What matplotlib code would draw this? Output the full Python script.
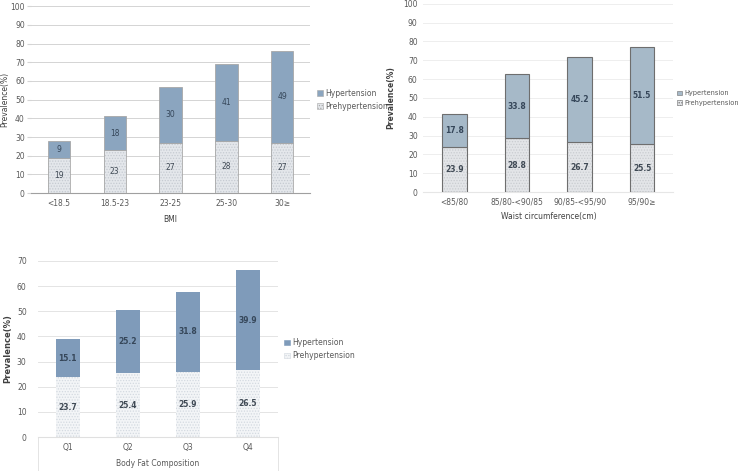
import numpy as np
import matplotlib
matplotlib.use("Agg")
import matplotlib.pyplot as plt
from matplotlib.patches import Patch

# --- data ---
bmi_cats = ["<18.5", "18.5-23", "23-25", "25-30", "30\u2265"]
bmi_pre = [19, 23, 27, 28, 27]
bmi_hyp = [9, 18, 30, 41, 49]

waist_cats = ["<85/80", "85/80-<90/85", "90/85-<95/90", "95/90\u2265"]
waist_pre = [23.9, 28.8, 26.7, 25.5]
waist_hyp = [17.8, 33.8, 45.2, 51.5]

fat_cats = ["Q1", "Q2", "Q3", "Q4"]
fat_pre = [23.7, 25.4, 25.9, 26.5]
fat_hyp = [15.1, 25.2, 31.8, 39.9]

plt.rcParams['font.family'] = ['DejaVu Sans']
plt.rcParams['hatch.linewidth'] = 0.6

fig = plt.figure(figsize=(7.4, 4.71), dpi=100)
tick_col = "#595959"


def stacked(ax, cats, pre, hyp, hyp_col, pre_face, hatch_col, edge, lw, fmt, bold, grid_col,
            width, leg_size=5.5, leg_x=1.01):
    x = np.arange(len(cats))
    pre = np.array(pre, dtype=float)
    hyp = np.array(hyp, dtype=float)
    # prehypertension: dotted fill, then outline on top
    ax.bar(x, pre, width, color=pre_face, edgecolor=hatch_col, hatch="......", linewidth=0, zorder=2)
    ax.bar(x, pre, width, facecolor="none", edgecolor=edge, linewidth=lw, zorder=3)
    ax.bar(x, hyp, width, bottom=pre, color=hyp_col, edgecolor=edge, linewidth=lw, zorder=3)
    fw = "bold" if bold else "normal"
    for xi, p, h in zip(x, pre, hyp):
        ax.text(xi, p / 2, fmt.format(p), ha="center", va="center", fontsize=5.5,
                color="#404a55", fontweight=fw, zorder=4)
        ax.text(xi, p + h / 2, fmt.format(h), ha="center", va="center", fontsize=5.5,
                color="#36475a", fontweight=fw, zorder=4)
    ax.set_xticks(x)
    ax.set_xticklabels(cats)
    ax.set_xlim(-0.5, len(cats) - 0.5)
    ax.yaxis.grid(True, color=grid_col, linewidth=0.7, zorder=0)
    ax.set_axisbelow(True)
    for s in ["top", "right", "left"]:
        ax.spines[s].set_visible(False)
    ax.tick_params(axis="both", labelsize=5.5, colors=tick_col, length=0, pad=4)
    leg = ax.legend(handles=[
        Patch(facecolor=hyp_col, edgecolor=edge, linewidth=0.4, label="Hypertension"),
        Patch(facecolor=pre_face, edgecolor=edge if lw > 0 else hatch_col, linewidth=0.4,
              hatch="......", label="Prehypertension")],
        loc="center left", bbox_to_anchor=(leg_x, 0.5), frameon=False, fontsize=leg_size,
        handlelength=0.7, handleheight=0.7, handletextpad=0.3, labelspacing=0.5,
        borderaxespad=0.2)
    for t in leg.get_texts():
        t.set_color(tick_col)
    return ax


# --- BMI panel ---
ax1 = fig.add_axes([0.042, 0.590, 0.377, 0.397])
stacked(ax1, bmi_cats, bmi_pre, bmi_hyp, "#8ba5bf", "#e4e7eb", "#c5cad1", "#a8a8a8", 0.6,
        "{:.0f}", False, "#d4d4d4", 0.4)
ax1.set_ylim(0, 100)
ax1.set_yticks(np.arange(0, 101, 10))
ax1.spines["bottom"].set_color("#a0a0a0")
ax1.tick_params(axis="y", length=3, color="#d4d4d4", pad=1.5)
ax1.set_ylabel("Prevalence(%)", fontsize=5.5, color="#404040", labelpad=1)
ax1.set_xlabel("BMI", fontsize=5.5, color="#404040", labelpad=5)

# --- waist panel ---
ax2 = fig.add_axes([0.572, 0.592, 0.338, 0.400])
stacked(ax2, waist_cats, waist_pre, waist_hyp, "#a6b9c8", "#e3e5e8", "#c9ccd0", "#6e6e6e", 0.8,
        "{:.1f}", True, "#eeeeee", 0.39, leg_size=4.8, leg_x=1.0)
ax2.set_ylim(0, 100)
ax2.set_yticks(np.arange(0, 101, 10))
ax2.spines["bottom"].set_color("#e6e6e6")
ax2.set_ylabel("Prevalence(%)", fontsize=5.5, color="#404040", fontweight="bold", labelpad=6)
ax2.set_xlabel("Waist circumference(cm)", fontsize=5.5, color="#404040", labelpad=4)

# --- body fat panel ---
ax3 = fig.add_axes([0.051, 0.072, 0.324, 0.374])
stacked(ax3, fat_cats, fat_pre, fat_hyp, "#7f9bba", "#f3f5f7", "#d3d9e0", "#7f9bba", 0,
        "{:.1f}", True, "#e4e4e4", 0.4)
ax3.set_ylim(0, 70)
ax3.set_yticks(np.arange(0, 71, 10))
ax3.spines["bottom"].set_color("#e0e0e0")
ax3.tick_params(axis="y", pad=8)
ax3.set_ylabel("Prevalence(%)", fontsize=6, color="#404040", fontweight="bold", labelpad=3)
ax3.set_xlabel("Body Fat Composition", fontsize=5.5, color="#595959", labelpad=5)
for xv in [0, 1]:
    ax3.plot([xv, xv], [0, -0.2], transform=ax3.transAxes, color="#e4e4e4",
             linewidth=0.7, clip_on=False)

fig.savefig("out.png", dpi=100)
